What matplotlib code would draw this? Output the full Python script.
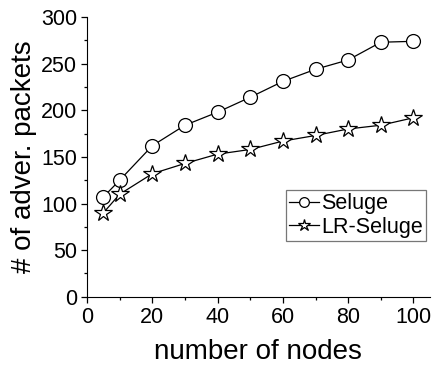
import matplotlib
matplotlib.use('Agg')
import matplotlib.pyplot as plt
from matplotlib.ticker import MultipleLocator

# dane
wezly = [5, 10, 20, 30, 40, 50, 60, 70, 80, 90, 100]
seluge = [107, 125, 162, 184, 198, 214, 231, 244, 254, 273, 274]
lr_seluge = [90, 110, 132, 143, 153, 158, 167, 173, 180, 184, 192]

plt.rcParams['font.family'] = ['Liberation Sans', 'DejaVu Sans']

fig = plt.figure(figsize=(4.35, 3.71), dpi=100)
ax = fig.add_axes([0.2, 0.2, 0.788, 0.754])

ax.plot(wezly, seluge, color='black', linewidth=0.9, marker='o', markersize=10,
        markerfacecolor='white', markeredgecolor='black', markeredgewidth=0.9, label='Seluge')
ax.plot(wezly, lr_seluge, color='black', linewidth=0.9, marker='*', markersize=13,
        markerfacecolor='white', markeredgecolor='black', markeredgewidth=0.9, label='LR-Seluge')

ax.set_xlim(0, 105)
ax.set_ylim(0, 300)
ax.xaxis.set_major_locator(MultipleLocator(20))
ax.xaxis.set_minor_locator(MultipleLocator(10))
ax.yaxis.set_major_locator(MultipleLocator(50))
ax.yaxis.set_minor_locator(MultipleLocator(25))

ax.spines['top'].set_visible(False)
ax.spines['right'].set_visible(False)
ax.tick_params(which='major', direction='out', length=4, width=0.9, labelsize=15.5, pad=3)
ax.tick_params(which='minor', direction='out', length=2.5, width=0.9)

ax.set_xlabel('number of nodes', fontsize=20, labelpad=8)
ax.set_ylabel('# of adver. packets', fontsize=20, labelpad=3)

leg = ax.legend(loc='lower right', bbox_to_anchor=(0.99, 0.2), fontsize=15.5,
                frameon=True, fancybox=False, edgecolor='#555555', handlelength=1.4,
                handletextpad=0.1, borderpad=0.15, labelspacing=0.1, borderaxespad=0,
                markerscale=0.7)
leg.get_frame().set_linewidth(0.9)

plt.savefig('out.png', dpi=100)
plt.close()
